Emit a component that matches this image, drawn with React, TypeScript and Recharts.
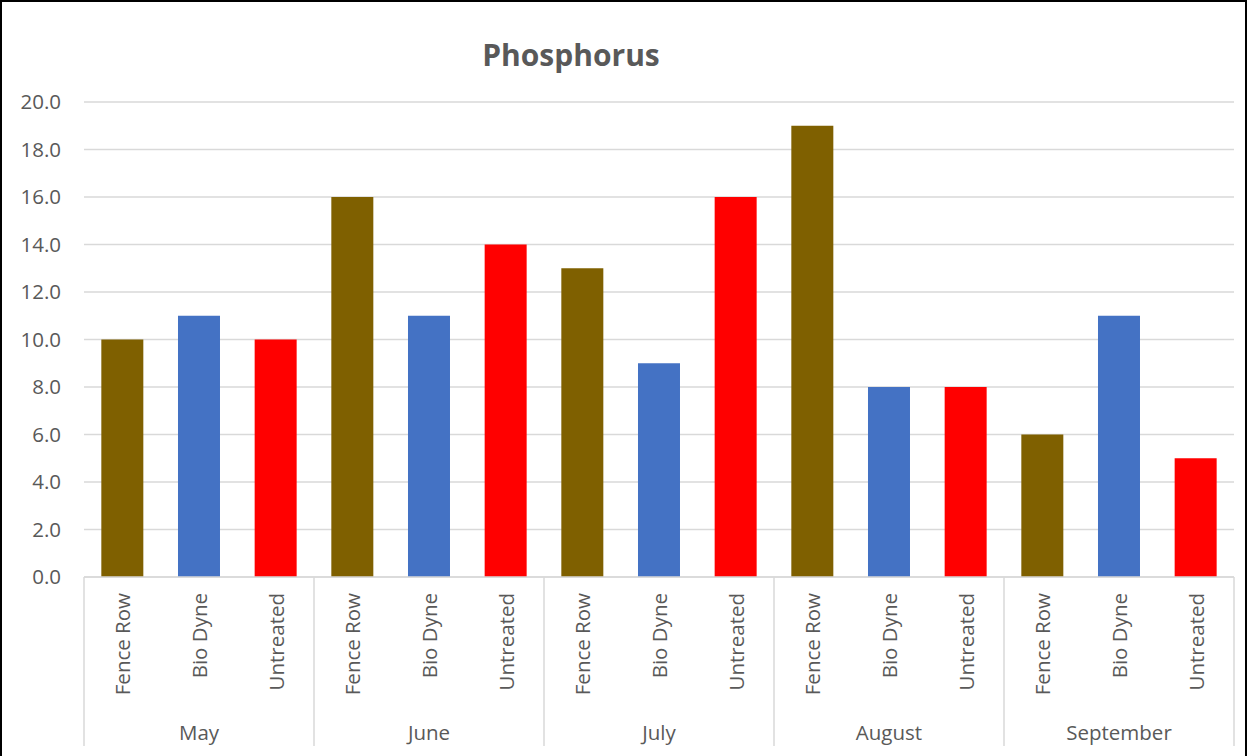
import { BarChart, Bar, XAxis, YAxis, CartesianGrid, Cell } from "recharts"

const months = ["May", "June", "July", "August", "September"]
const treatments = ["Fence Row", "Bio Dyne", "Untreated"]
const treatmentColors = ["#7F6000", "#4472C4", "#FF0000"]
const phosphorus = [
  [10, 11, 10],
  [16, 11, 14],
  [13, 9, 16],
  [19, 8, 8],
  [6, 11, 5],
]
const yTicks = [0, 2, 4, 6, 8, 10, 12, 14, 16, 18, 20]

const W = 1247
const H = 756
const M = { top: 102, right: 13, bottom: 0, left: 0 }
const Y_W = 84
const X_H = 179
const FONT = "'Open Sans', Lato, sans-serif"
const TEXT = "#595959"
const GRID = "#d9d9d9"

const data = months.flatMap((m, mi) =>
  treatments.map((t, ti) => ({
    key: `${m}-${t}`,
    month: m,
    treatment: t,
    value: phosphorus[mi][ti],
    color: treatmentColors[ti],
  }))
)

const plotW = W - Y_W - M.right
const step = plotW / data.length

const XTick = ({ x, y, index }: any) => {
  const d = data[index]
  if (!d) return null
  const left = x - step / 2
  return (
    <g>
      <text x={x} y={y + 16} transform={`rotate(-90 ${x} ${y + 16})`}
            textAnchor="end" dominantBaseline="central"
            fill={TEXT} fontSize={20.5} fontFamily={FONT}>
        {d.treatment}
      </text>
      {index % 3 === 1 && (
        <text x={x} y={y + 155} textAnchor="middle" dominantBaseline="central"
              fill={TEXT} fontSize={20.5} fontFamily={FONT}>
          {d.month}
        </text>
      )}
      {index % 3 === 0 && (
        <line x1={left} x2={left} y1={y} y2={y + 169} stroke={GRID} strokeWidth={1.5} />
      )}
      {index === data.length - 1 && (
        <line x1={x + step / 2} x2={x + step / 2} y1={y} y2={y + 169} stroke={GRID} strokeWidth={1.5} />
      )}
    </g>
  )
}

export default function App() {
  return (
    <div style={{ position: "absolute", left: 0, top: 0, width: W, height: H, background: "#fff" }}>
      <BarChart width={W} height={H} data={data} margin={M} barCategoryGap="22.6%">
        <CartesianGrid vertical={false} stroke={GRID} strokeWidth={1.3} />
        <XAxis dataKey="key" interval={0} height={X_H} tickLine={false}
               axisLine={{ stroke: GRID, strokeWidth: 1.5 }} tickSize={0} tickMargin={0}
               tick={<XTick />} />
        <YAxis width={Y_W} domain={[0, 20]} ticks={yTicks} axisLine={false} tickLine={false}
               tickSize={0} tickMargin={23}
               tickFormatter={(v: number) => v.toFixed(1)}
               tick={{ fill: TEXT, fontSize: 20.5, fontFamily: FONT }} />
        <Bar dataKey="value" isAnimationActive={false}>
          {data.map(d => <Cell key={d.key} fill={d.color} />)}
        </Bar>
      </BarChart>
      <div style={{ position: "absolute", left: 0, width: 1142, top: 36, textAlign: "center",
                    fontFamily: FONT, fontWeight: 700, fontSize: 30, color: TEXT, lineHeight: "38px" }}>
        Phosphorus
      </div>
      <div style={{ position: "absolute", left: 0, top: 0, width: W, height: H, boxSizing: "border-box",
                    borderTop: "2px solid #000", borderLeft: "2px solid #000", borderRight: "2px solid #000",
                    pointerEvents: "none" }} />
    </div>
  )
}
